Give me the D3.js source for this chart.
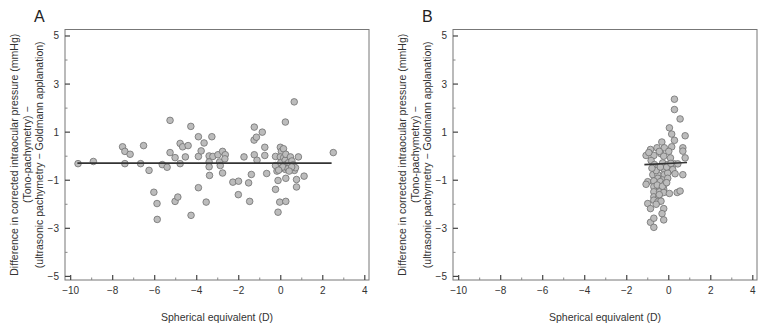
<!DOCTYPE html>
<html>
<head>
<meta charset="utf-8">
<script src="https://cdn.jsdelivr.net/npm/d3@7"></script>
<style>
  body { margin: 0; background: #fff; }
  svg { font-family: "Liberation Sans", Arial, sans-serif; }
  .tick-label { font-size: 10px; fill: #333; }
  .axis-title { font-size: 10.5px; fill: #333; }
  .panel-letter { font-size: 16px; fill: #222; }
</style>
</head>
<body>
<div id="chart"></div>
<script>
// Panel A: spherical equivalent (D) vs IOP difference (mmHg)
const seA = [-9.65, -8.92, -7.53, -7.42, -7.17, -7.42, -6.53, -6.67, -6.27, -6.04,
  -5.89, -5.88, -5.64, -5.41, -5.27, -5.27, -5.03, -5.03, -4.90, -4.79,
  -4.67, -4.79, -4.54, -4.41, -4.28, -4.27, -3.92, -3.92, -3.92, -3.79,
  -3.65, -3.55, -3.41, -3.41, -3.41, -3.39, -3.28, -3.23, -2.99, -2.91,
  -2.88, -2.77, -2.77, -2.64, -2.66, -2.28, -2.01, -2.02, -1.75, -1.53,
  -1.48, -1.40, -1.26, -1.27, -1.26, -1.16, -1.13, -0.88, -0.76, -0.76,
  -0.67, -0.25, -0.25, -0.25, -0.13, -0.13, -0.18, -0.02, 0.03, -0.02,
  0.00, -0.05, 0.08, 0.13, 0.14, 0.21, 0.22, 0.24, 0.22, 0.24,
  0.24, 0.22, 0.37, 0.43, 0.46, 0.53, 0.59, 0.64, 0.65, 0.70,
  0.75, 0.75, 0.84, 1.11, 2.50, 0.10, 0.35, 0.52, 0.40, -0.10];
const diffA = [-0.31, -0.22, 0.39, 0.20, 0.08, -0.31, 0.44, -0.31, -0.59, -1.50,
  -1.97, -2.63, -0.35, -0.46, 1.49, 0.15, -0.06, -1.88, -1.70, 0.53,
  0.39, -0.31, -0.03, 0.44, 1.24, -2.46, 0.81, -0.01, -1.31, 0.22,
  0.55, -1.91, 0.01, -0.24, -0.44, -0.80, 0.81, -0.01, 0.06, -0.24,
  -0.39, 0.20, -0.70, 0.06, -0.11, -1.08, -1.04, -1.60, -0.03, -1.11,
  -1.88, -0.76, 1.21, 0.67, 0.06, 0.79, -0.17, 1.00, 0.37, 0.03,
  -0.72, -0.01, -0.39, -1.38, -1.01, -2.33, -0.62, 0.37, 0.20, -0.03,
  -0.27, -1.91, -0.48, 0.31, -0.06, -0.17, -0.36, 0.08, -0.55, -1.88,
  -0.92, 1.42, -0.27, -0.41, -0.03, -0.20, -0.36, 2.26, -0.59, -0.48,
  -0.97, -1.28, -0.03, -0.83, 0.15, -0.45, -0.52, -0.45, -0.62, -0.58];
const fitA = { x: [-9.68, 2.42], y: [-0.29, -0.29] };

// Panel B
const seB = [0.27, 0.27, 0.54, 0.03, 0.14, 0.27, 0.78, -0.33, 0.14, 0.67,
  0.67, 0.78, -0.87, -0.56, -0.21, -1.08, -0.71, -0.37, -0.24, 0.08,
  -0.84, -0.68, -0.29, -0.05, 0.27, 0.43, -0.52, -0.21, 0.03, 0.19,
  -0.76, -0.52, -0.21, -0.05, 0.30, 0.67, -0.52, -0.29, -0.05, -1.00,
  -0.71, -0.40, -0.17, -1.08, -0.71, -0.44, -0.24, -0.71, -0.44, -0.24,
  0.03, 0.40, 0.54, -0.71, -0.48, -0.71, -0.52, -0.37, -1.00, -0.87,
  -0.24, -0.32, -0.87, -0.71, -0.24, -0.71, -0.60, -0.40, -0.10, -0.55,
  -0.30, -0.45, -0.60, -0.10, 0.10, -0.80, -0.95, -0.45, 0.00];
const diffB = [2.37, 1.94, 1.55, 1.18, 0.92, 0.66, 0.85, 0.59, 0.39, 0.35,
  0.21, -0.07, 0.28, 0.35, 0.35, 0.03, 0.03, 0.10, 0.00, -0.07,
  -0.18, -0.35, -0.28, -0.35, -0.32, -0.32, -0.49, -0.56, -0.61, -0.56,
  -0.77, -0.77, -0.77, -0.70, -0.73, -0.77, -0.92, -0.99, -0.92, -1.06,
  -1.03, -1.06, -1.13, -1.17, -1.27, -1.31, -1.37, -1.48, -1.48, -1.51,
  -1.55, -1.51, -1.45, -1.69, -1.69, -1.83, -1.90, -1.87, -1.97, -2.18,
  -2.18, -2.39, -2.75, -2.58, -2.65, -2.96, -0.60, -0.45, -0.45, -1.20,
  -1.25, -1.60, -2.00, -1.10, -0.30, -0.50, 0.15, 0.20, 0.20];
const fitB = { x: [-1.16, 0.87], y: [-0.35, -0.26] };

const xTicks = [-10, -8, -6, -4, -2, 0, 2, 4];
const xMinor = [-9, -7, -5, -3, -1, 1, 3];
const yTicks = [5, 3, 1, -1, -3, -5];
const yMinor = [4, 2, 0, -2, -4];

const yTitle = [
  'Difference in corrected intraocular pressure (mmHg)',
  '(Tono-pachymetry) \u2212',
  '(ultrasonic pachymetry \u2212 Goldmann applanation)'
];
const xTitle = 'Spherical equivalent (D)';

const W = 769, H = 332;
const plotW = 304, plotH = 250.5, plotTop = 29.5;

const svg = d3.select('#chart').append('svg')
  .attr('width', W)
  .attr('height', H);

const x = d3.scaleLinear().domain([-10.27, 4.2]).range([0, plotW]);
const y = d3.scaleLinear().domain([-5.15, 5.27]).range([plotH, 0]);

function drawPanel(left, letter, se, diff, fit) {
  const g = svg.append('g').attr('transform', `translate(${left}, ${plotTop})`);

  // frame
  g.append('rect')
    .attr('width', plotW)
    .attr('height', plotH)
    .attr('fill', 'none')
    .attr('stroke', '#777')
    .attr('stroke-width', 1);

  // y ticks (inside)
  g.selectAll('.ymaj').data(yTicks).enter().append('line')
    .attr('x1', 0).attr('x2', 5)
    .attr('y1', d => y(d)).attr('y2', d => y(d))
    .attr('stroke', '#444').attr('stroke-width', 1.2);
  g.selectAll('.ymin').data(yMinor).enter().append('line')
    .attr('x1', 0).attr('x2', 2.5)
    .attr('y1', d => y(d)).attr('y2', d => y(d))
    .attr('stroke', '#888').attr('stroke-width', 1);
  g.selectAll('.ylab').data(yTicks).enter().append('text')
    .attr('class', 'tick-label')
    .attr('x', -6)
    .attr('y', d => y(d))
    .attr('dy', '0.35em')
    .attr('text-anchor', 'end')
    .text(d => d < 0 ? '\u2212' + Math.abs(d) : d);

  // x ticks (inside)
  g.selectAll('.xmaj').data(xTicks).enter().append('line')
    .attr('x1', d => x(d)).attr('x2', d => x(d))
    .attr('y1', plotH).attr('y2', plotH - 5)
    .attr('stroke', '#444').attr('stroke-width', 1.2);
  g.selectAll('.xmin').data(xMinor).enter().append('line')
    .attr('x1', d => x(d)).attr('x2', d => x(d))
    .attr('y1', plotH).attr('y2', plotH - 2.5)
    .attr('stroke', '#888').attr('stroke-width', 1);
  g.selectAll('.xlab').data(xTicks).enter().append('text')
    .attr('class', 'tick-label')
    .attr('x', d => x(d))
    .attr('y', plotH + 14)
    .attr('text-anchor', 'middle')
    .text(d => d < 0 ? '\u2212' + Math.abs(d) : d);

  // points
  const pts = se.map((v, i) => [v, diff[i]]);
  g.append('g').selectAll('circle').data(pts).enter().append('circle')
    .attr('cx', d => x(d[0]))
    .attr('cy', d => y(d[1]))
    .attr('r', 3.3)
    .attr('fill', '#bcbcbc')
    .attr('stroke', '#707070')
    .attr('stroke-width', 0.8);

  // regression line
  g.append('line')
    .attr('x1', x(fit.x[0])).attr('x2', x(fit.x[1]))
    .attr('y1', y(fit.y[0])).attr('y2', y(fit.y[1]))
    .attr('stroke', '#333')
    .attr('stroke-width', 1.6);

  // titles
  g.append('text')
    .attr('class', 'axis-title')
    .attr('x', plotW / 2)
    .attr('y', plotH + 41)
    .attr('text-anchor', 'middle')
    .text(xTitle);

  const ty = g.append('text')
    .attr('class', 'axis-title')
    .attr('transform', `translate(${-47}, ${plotH / 2}) rotate(-90)`)
    .attr('text-anchor', 'middle');
  yTitle.forEach((t, i) => {
    ty.append('tspan')
      .attr('x', 0)
      .attr('y', i * 12.5)
      .text(t);
  });

  svg.append('text')
    .attr('class', 'panel-letter')
    .attr('x', left - 31)
    .attr('y', 22)
    .text(letter);
}

drawPanel(65, 'A', seA, diffA, fitA);
drawPanel(453, 'B', seB, diffB, fitB);
</script>
</body>
</html>
